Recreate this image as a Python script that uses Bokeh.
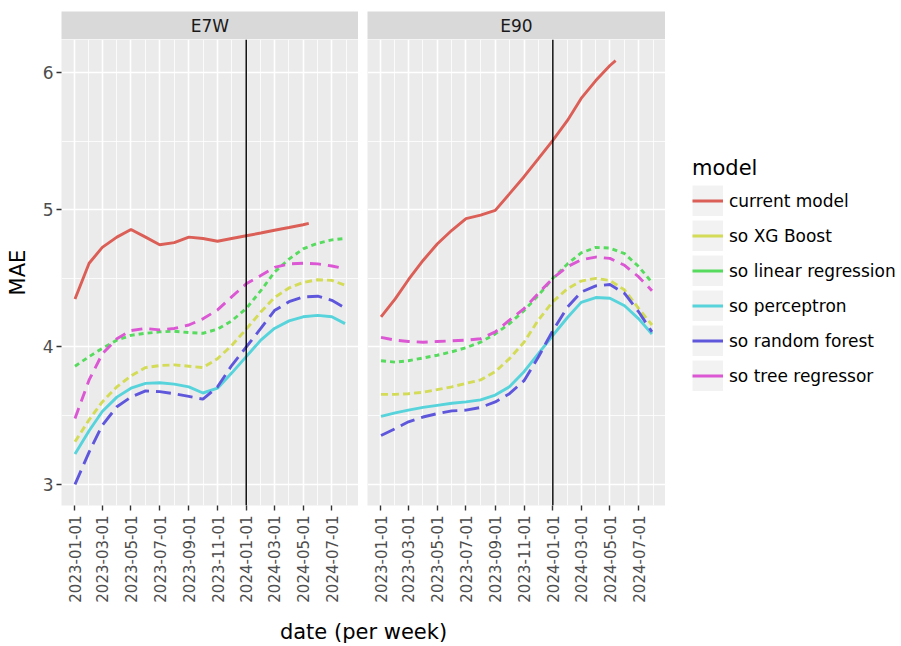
import math

import pandas as pd
from bokeh.embed import file_html
from bokeh.layouts import column, row
from bokeh.models import (DatetimeTickFormatter, FixedTicker, Label, Legend,
                          LegendItem, Range1d, Span)
from bokeh.plotting import figure
from bokeh.resources import INLINE

FONT = "DejaVu Sans"

# ---- data -------------------------------------------------------------
PANELS = ["E7W", "E90"]
MODELS = ["current model", "so XG Boost", "so linear regression",
          "so perceptron", "so random forest", "so tree regressor"]
COLORS = ["#db5f57", "#d3db57", "#57db5f", "#57d3db", "#5f57db", "#db57d3"]
DASHES = ["solid", "7 4", "5 4", "solid", "15 7", "11 7"]

DATES = ["2023-01-02", "2023-02-01", "2023-03-01", "2023-04-01", "2023-05-01",
         "2023-06-01", "2023-07-01", "2023-08-01", "2023-09-01", "2023-10-01",
         "2023-11-01", "2023-12-01", "2024-01-01", "2024-02-01", "2024-03-01",
         "2024-04-01", "2024-05-01", "2024-06-01", "2024-07-01", "2024-07-29"]
CURRENT_DATES = DATES[:17] + ["2024-05-13"]

E7W_CURRENT = [4.35, 4.61, 4.725, 4.80, 4.855, 4.80, 4.745, 4.76, 4.80, 4.79,
               4.77, 4.79, 4.81, 4.83, 4.85, 4.87, 4.89, 4.90]
E7W_XGB = [3.31, 3.47, 3.60, 3.71, 3.79, 3.85, 3.865, 3.87, 3.86, 3.85,
           3.915, 4.01, 4.13, 4.255, 4.36, 4.43, 4.47, 4.49, 4.485, 4.45]
E7W_LINEAR = [3.86, 3.93, 3.99, 4.05, 4.085, 4.10, 4.11, 4.115, 4.105, 4.10,
              4.13, 4.19, 4.28, 4.41, 4.545, 4.64, 4.715, 4.755, 4.78, 4.79]
E7W_PERCEPTRON = [3.22, 3.39, 3.53, 3.635, 3.70, 3.735, 3.74, 3.73, 3.71, 3.665,
                  3.70, 3.81, 3.93, 4.05, 4.135, 4.19, 4.22, 4.23, 4.22, 4.17]
E7W_FOREST = [3.00, 3.235, 3.43, 3.565, 3.635, 3.68, 3.675, 3.66, 3.64, 3.62,
              3.71, 3.865, 4.00, 4.135, 4.265, 4.33, 4.365, 4.37, 4.34, 4.285]
E7W_TREE = [3.48, 3.76, 3.95, 4.06, 4.12, 4.135, 4.125, 4.135, 4.16, 4.205,
            4.27, 4.365, 4.46, 4.52, 4.58, 4.605, 4.61, 4.605, 4.59, 4.57]

E90_CURRENT = [4.22, 4.35, 4.49, 4.63, 4.75, 4.85, 4.935, 4.96, 4.995, 5.115,
               5.24, 5.37, 5.505, 5.65, 5.81, 5.94, 6.05, 6.085]
E90_XGB = [3.655, 3.655, 3.66, 3.67, 3.69, 3.71, 3.735, 3.76, 3.82, 3.915,
           4.035, 4.195, 4.33, 4.425, 4.48, 4.50, 4.485, 4.415, 4.28, 4.16]
E90_LINEAR = [3.90, 3.89, 3.90, 3.92, 3.94, 3.965, 3.995, 4.035, 4.095, 4.17,
              4.265, 4.375, 4.50, 4.605, 4.685, 4.725, 4.72, 4.68, 4.585, 4.47]
E90_PERCEPTRON = [3.495, 3.52, 3.54, 3.56, 3.575, 3.59, 3.60, 3.615, 3.65, 3.71,
                  3.82, 3.95, 4.085, 4.215, 4.325, 4.36, 4.355, 4.30, 4.205, 4.095]
E90_FOREST = [3.355, 3.405, 3.455, 3.49, 3.515, 3.535, 3.54, 3.56, 3.60, 3.66,
              3.755, 3.925, 4.12, 4.29, 4.40, 4.445, 4.455, 4.39, 4.255, 4.11]
E90_TREE = [4.07, 4.05, 4.04, 4.035, 4.04, 4.045, 4.05, 4.06, 4.11, 4.195,
            4.28, 4.39, 4.50, 4.585, 4.635, 4.655, 4.645, 4.595, 4.51, 4.41]

SERIES = {
    "E7W": [E7W_CURRENT, E7W_XGB, E7W_LINEAR, E7W_PERCEPTRON, E7W_FOREST, E7W_TREE],
    "E90": [E90_CURRENT, E90_XGB, E90_LINEAR, E90_PERCEPTRON, E90_FOREST, E90_TREE],
}

X_TICKS = ["2023-01-01", "2023-03-01", "2023-05-01", "2023-07-01", "2023-09-01",
           "2023-11-01", "2024-01-01", "2024-03-01", "2024-05-01", "2024-07-01"]
Y_TICKS = [3, 4, 5, 6]
CUTOFF_DATE = "2024-01-01"


def ms(d):
    return pd.Timestamp(d).timestamp() * 1000.0


def midpoints(vals):
    ext = [2 * vals[0] - vals[1]] + list(vals) + [2 * vals[-1] - vals[-2]]
    return [(a + b) / 2 for a, b in zip(ext[:-1], ext[1:])]


# ---- scales (5 % padding around the data, as in ggplot) ----------------
all_dates = pd.to_datetime(DATES + CURRENT_DATES)
x_lo, x_hi = all_dates.min(), all_dates.max()
x_pad = (x_hi - x_lo) * 0.05
x_range = Range1d((x_lo - x_pad).to_pydatetime(), (x_hi + x_pad).to_pydatetime())

all_vals = [v for name in PANELS for s in SERIES[name] for v in s]
y_lo, y_hi = min(all_vals), max(all_vals)
y_pad = (y_hi - y_lo) * 0.05
y_range = Range1d(y_lo - y_pad, y_hi + y_pad)

x_major = [ms(d) for d in X_TICKS]
x_ticker = FixedTicker(ticks=x_major, minor_ticks=midpoints(x_major))
y_ticker = FixedTicker(ticks=Y_TICKS, minor_ticks=midpoints(Y_TICKS))
date_fmt = "%Y-%m-%d"
x_formatter = DatetimeTickFormatter(
    microseconds=date_fmt, milliseconds=date_fmt, seconds=date_fmt,
    minsec=date_fmt, minutes=date_fmt, hourmin=date_fmt, hours=date_fmt,
    days=date_fmt, months=date_fmt, years=date_fmt)

LEFT = 61
GAP = 9
FRAME_W = 297
PANEL_H = 577
BOTTOM = 111


def make_strip(text, first):
    s = figure(width=(LEFT if first else GAP) + FRAME_W + (0 if first else 1),
               height=39, x_range=Range1d(0, 1), y_range=Range1d(0, 1),
               x_axis_location=None, y_axis_location=None,
               toolbar_location=None, output_backend="svg",
               min_border_left=LEFT if first else GAP, min_border_right=0,
               min_border_top=11, min_border_bottom=0)
    s.background_fill_color = "#d9d9d9"
    s.border_fill_color = "white"
    s.outline_line_color = None
    s.grid.visible = False
    s.add_layout(Label(x=0.5, y=0.5, text=text, text_align="center",
                       text_baseline="middle", text_font=FONT,
                       text_font_size="17px", text_color="#1a1a1a"))
    return s


def make_panel(name, first):
    p = figure(width=(LEFT if first else GAP) + FRAME_W + (0 if first else 1),
               height=PANEL_H, x_range=x_range, y_range=y_range,
               x_axis_type="datetime",
               y_axis_location="left" if first else None,
               toolbar_location=None, output_backend="svg",
               min_border_left=LEFT if first else GAP, min_border_right=0,
               min_border_top=0, min_border_bottom=BOTTOM)
    p.background_fill_color = "#ebebeb"
    p.border_fill_color = "white"
    p.outline_line_color = None

    for g in p.xgrid:
        g.ticker = x_ticker
    for g in p.ygrid:
        g.ticker = y_ticker
    p.grid.grid_line_color = "white"
    p.grid.grid_line_width = 1.6
    p.grid.minor_grid_line_color = "white"
    p.grid.minor_grid_line_width = 0.8

    p.xaxis.ticker = x_ticker
    p.xaxis.formatter = x_formatter
    p.xaxis.major_label_orientation = math.pi / 2
    axes = list(p.xaxis) + (list(p.yaxis) if first else [])
    for ax in axes:
        ax.axis_line_color = None
        ax.major_tick_line_color = "#333333"
        ax.major_tick_line_width = 1.4
        ax.major_tick_in = 0
        ax.major_tick_out = 5
        ax.minor_tick_line_color = None
        ax.major_label_text_font = FONT
        ax.major_label_text_color = "#4d4d4d"
    p.xaxis.major_label_text_font_size = "15px"
    p.xaxis.major_label_standoff = 5
    if first:
        p.yaxis.ticker = y_ticker
        p.yaxis.major_label_text_font_size = "17px"
        p.yaxis.major_label_standoff = 3
        p.yaxis.axis_label = "MAE"
        p.yaxis.axis_label_text_font = FONT
        p.yaxis.axis_label_text_font_size = "21px"
        p.yaxis.axis_label_text_font_style = "normal"
        p.yaxis.axis_label_text_color = "black"
        p.yaxis.axis_label_standoff = 10

    for model, color, dash, vals in zip(MODELS, COLORS, DASHES, SERIES[name]):
        dates = CURRENT_DATES if model == "current model" else DATES
        p.line(x=pd.to_datetime(dates), y=vals, line_color=color,
               line_width=2.9, line_dash=dash)

    p.add_layout(Span(location=ms(CUTOFF_DATE), dimension="height",
                      line_color="black", line_width=1.4))
    return p


strip1, strip2 = make_strip("E7W", True), make_strip("E90", False)
p1, p2 = make_panel("E7W", True), make_panel("E90", False)

# shared x axis title, centred under both panels
xtitle = figure(width=LEFT + FRAME_W + GAP + FRAME_W + 1, height=30,
                x_range=Range1d(0, 1), y_range=Range1d(0, 1),
                x_axis_location=None, y_axis_location=None,
                toolbar_location=None, output_backend="svg",
                min_border_left=LEFT, min_border_right=0,
                min_border_top=0, min_border_bottom=0)
xtitle.outline_line_color = None
xtitle.grid.visible = False
xtitle.add_layout(Label(x=0.5, y=0.5, text="date (per week)", text_align="center",
                        text_baseline="middle", text_font=FONT,
                        text_font_size="21px", text_color="black"))

# legend area: key glyphs come from placeholder renderers that draw nothing
pleg = figure(width=901 - (LEFT + FRAME_W + GAP + FRAME_W + 1), height=646,
              x_range=Range1d(0, 1), y_range=Range1d(0, 1),
              x_axis_location=None, y_axis_location=None,
              toolbar_location=None, output_backend="svg",
              min_border_left=0, min_border_right=0,
              min_border_top=0, min_border_bottom=0)
pleg.outline_line_color = None
pleg.grid.visible = False
nan = float("nan")
key_bg = pleg.line(x=[nan], y=[nan], line_color="#f2f2f2", line_width=31)
items = []
for model, color in zip(MODELS, COLORS):
    r = pleg.line(x=[nan], y=[nan], line_color=color, line_width=3)
    items.append(LegendItem(label=model, renderers=[key_bg, r]))
legend = Legend(items=items, location=(27, 255), title="model",
                title_text_font=FONT, title_text_font_size="21px",
                title_text_font_style="normal", title_text_color="black",
                title_standoff=5,
                label_text_font=FONT, label_text_font_size="17px",
                label_text_color="black", label_standoff=6,
                glyph_width=31, glyph_height=31, spacing=4,
                padding=0, margin=0, border_line_color=None,
                background_fill_alpha=0)
pleg.add_layout(legend)

layout = row(column(row(column(strip1, p1), column(strip2, p2)), xtitle), pleg)

open("out.html", "w").write(file_html(layout, INLINE, title="MAE per week"))
